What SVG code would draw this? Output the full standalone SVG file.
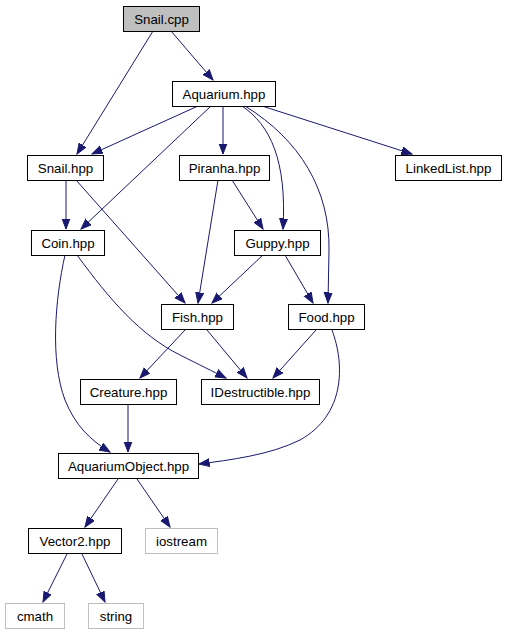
<svg xmlns="http://www.w3.org/2000/svg" width="507" height="635" viewBox="0 0 507 635">
<style>
.n rect{fill:#fff;stroke:#000;stroke-width:1}
.n.root rect{fill:#bfbfbf}
.n.ext rect{stroke:#bfbfbf}
.n text{font-family:"Liberation Sans",Arial,sans-serif;font-size:13.3px;text-anchor:middle;fill:#000}
.e path{fill:none;stroke:#191970;stroke-width:1;marker-end:url(#ah)}
</style>
<defs>
<marker id="ah" markerUnits="userSpaceOnUse" markerWidth="12" markerHeight="10" refX="10.5" refY="4.5" orient="auto">
<path d="M0,0.5 L10.5,4.5 L0,8.5 z" fill="#191970" stroke="#191970" stroke-width="1"/>
</marker>
</defs>
<rect width="507" height="635" fill="#fff"/>
<g id="edges" class="e">
<path d="M153,31 L77,154"/>
<path d="M171,31 L213,80"/>
<path d="M198,106 L92,154"/>
<path d="M211,106 L81,229"/>
<path d="M223,106 L223,154"/>
<path d="M242,106 C270,125 287,160 283,229"/>
<path d="M245,106 C300,140 330,190 329,250 L328,303"/>
<path d="M262,106 L412,154"/>
<path d="M66,180 L66,229"/>
<path d="M76,180 L185,303"/>
<path d="M218,180 L198,303"/>
<path d="M232,180 L263,229"/>
<path d="M263,255 L212,303"/>
<path d="M285,255 L313,303"/>
<path d="M77,255 C110,300 140,335 180,355 C200,365 212,371 226,378"/>
<path d="M65,255 C55,300 50,360 65,400 C75,425 90,440 110,452"/>
<path d="M185,330 L140,378"/>
<path d="M207,330 L247,378"/>
<path d="M316,330 L273,378"/>
<path d="M332,330 C345,365 345,415 300,440 C270,455 230,460 199,464"/>
<path d="M128,404 L128,452"/>
<path d="M118,479 L85,527"/>
<path d="M137,479 L170,527"/>
<path d="M67,554 L43,602"/>
<path d="M82,554 L105,602"/>
</g>
<g id="snail_cpp" class="n root"><rect x="123.5" y="6.5" width="76" height="25"/><text x="161.5" y="23.5">Snail.cpp</text></g>
<g id="aquarium_hpp" class="n"><rect x="172.5" y="81.5" width="103" height="25"/><text x="224" y="98.5">Aquarium.hpp</text></g>
<g id="snail_hpp" class="n"><rect x="27.5" y="155.5" width="76" height="25"/><text x="65.5" y="172.5">Snail.hpp</text></g>
<g id="piranha_hpp" class="n"><rect x="179.5" y="155.5" width="90" height="25"/><text x="224.5" y="172.5">Piranha.hpp</text></g>
<g id="linkedlist_hpp" class="n"><rect x="395.5" y="155.5" width="106" height="25"/><text x="448.5" y="172.5">LinkedList.hpp</text></g>
<g id="coin_hpp" class="n"><rect x="31.5" y="230.5" width="73" height="25"/><text x="68" y="247.5">Coin.hpp</text></g>
<g id="guppy_hpp" class="n"><rect x="234.5" y="230.5" width="86" height="25"/><text x="277.5" y="247.5">Guppy.hpp</text></g>
<g id="fish_hpp" class="n"><rect x="161.5" y="304.5" width="72" height="25"/><text x="197.5" y="321.5">Fish.hpp</text></g>
<g id="food_hpp" class="n"><rect x="288.5" y="304.5" width="76" height="25"/><text x="326.5" y="321.5">Food.hpp</text></g>
<g id="creature_hpp" class="n"><rect x="80.5" y="379.5" width="96" height="25"/><text x="128.5" y="396.5">Creature.hpp</text></g>
<g id="idestructible_hpp" class="n"><rect x="201.5" y="379.5" width="118" height="25"/><text x="260.5" y="396.5">IDestructible.hpp</text></g>
<g id="aquariumobject_hpp" class="n"><rect x="58.5" y="453.5" width="140" height="25"/><text x="128.5" y="470.5">AquariumObject.hpp</text></g>
<g id="vector2_hpp" class="n"><rect x="28.5" y="528.5" width="93" height="25"/><text x="75" y="545.5">Vector2.hpp</text></g>
<g id="iostream" class="n ext"><rect x="145.5" y="528.5" width="72" height="25"/><text x="181.5" y="545.5">iostream</text></g>
<g id="cmath" class="n ext"><rect x="5.5" y="603.5" width="59" height="25"/><text x="35" y="620.5">cmath</text></g>
<g id="string" class="n ext"><rect x="88.5" y="603.5" width="55" height="25"/><text x="116" y="620.5">string</text></g>
</svg>
